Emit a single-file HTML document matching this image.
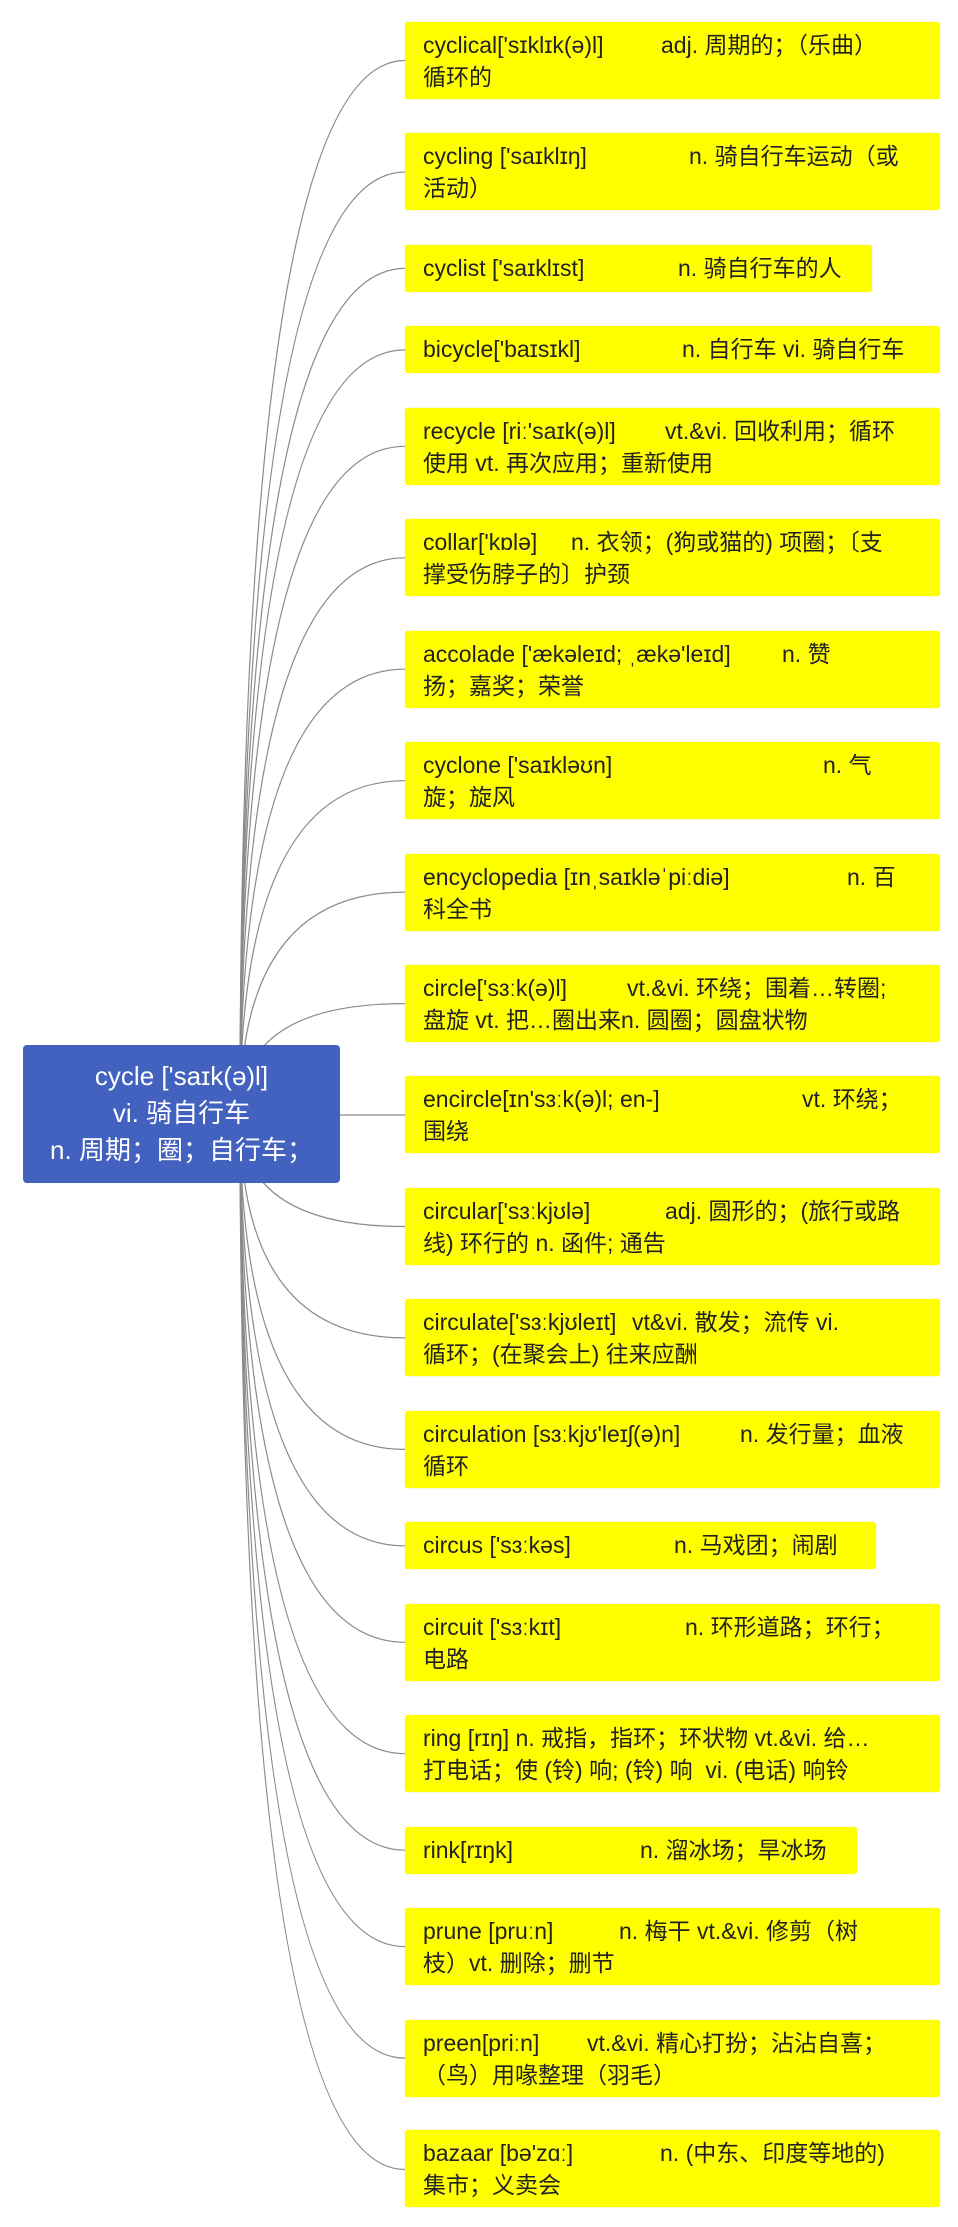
<!DOCTYPE html>
<html><head><meta charset="utf-8"><style>
html,body{margin:0;padding:0;background:#fff;}
body{width:958px;height:2227px;position:relative;overflow:hidden;font-family:"Liberation Sans","Noto Sans CJK SC",sans-serif;}
.b{position:absolute;left:405px;background:#ffff00;border-radius:3px;box-shadow:0 0 1px #e0e000;color:#222;font-size:23px;line-height:32px;padding:7px 0 0 18px;box-sizing:border-box;white-space:nowrap;}
.h2{height:77px}.h1{height:47px}
.l{position:relative;height:32px}
.l span{position:absolute;top:0}
.root{position:absolute;left:23px;top:1045px;width:317px;height:138px;background:#4361be;border-radius:4px;color:#fff;font-size:26px;line-height:37px;text-align:center;padding-top:13px;box-sizing:border-box;white-space:nowrap;}
svg{position:absolute;left:0;top:0}
</style></head><body>
<svg width="958" height="2227" fill="none" stroke="#8a8a8a" stroke-width="1.2">
<path d="M240 1114 Q240 60.5 405 60.5"/>
<path d="M240 1114 Q240 172 405 172"/>
<path d="M240 1114 Q240 268.4 405 268.4"/>
<path d="M240 1114 Q240 349.9 405 349.9"/>
<path d="M240 1114 Q240 446.3 405 446.3"/>
<path d="M240 1114 Q240 557.8 405 557.8"/>
<path d="M240 1114 Q240 669.2 405 669.2"/>
<path d="M240 1114 Q240 780.7 405 780.7"/>
<path d="M240 1114 Q240 892.1 405 892.1"/>
<path d="M240 1114 Q240 1003.6 405 1003.6"/>
<path d="M240 1115 L405 1115"/>
<path d="M240 1114 Q240 1226.5 405 1226.5"/>
<path d="M240 1114 Q240 1337.9 405 1337.9"/>
<path d="M240 1114 Q240 1449.4 405 1449.4"/>
<path d="M240 1114 Q240 1545.8 405 1545.8"/>
<path d="M240 1114 Q240 1642.3 405 1642.3"/>
<path d="M240 1114 Q240 1753.7 405 1753.7"/>
<path d="M240 1114 Q240 1850.2 405 1850.2"/>
<path d="M240 1114 Q240 1946.6 405 1946.6"/>
<path d="M240 1114 Q240 2058.1 405 2058.1"/>
<path d="M240 1114 Q240 2169.5 405 2169.5"/>
</svg>

<div class="b h2" style="top:22px;width:535px"><div class="l">cyclical['sɪklɪk(ə)l]<span style="left:238px">adj. 周期的；（乐曲）</span></div><div class="l">循环的</div></div>
<div class="b h2" style="top:133px;width:535px"><div class="l">cycling ['saɪklɪŋ]<span style="left:266px">n. 骑自行车运动（或</span></div><div class="l">活动）</div></div>
<div class="b h1" style="top:245px;width:467px"><div class="l">cyclist ['saɪklɪst]<span style="left:255px">n. 骑自行车的人</span></div></div>
<div class="b h1" style="top:326px;width:535px"><div class="l">bicycle['baɪsɪkl]<span style="left:259px">n. 自行车 vi. 骑自行车</span></div></div>
<div class="b h2" style="top:408px;width:535px"><div class="l">recycle [riː'saɪk(ə)l]<span style="left:242px">vt.&amp;vi. 回收利用；循环</span></div><div class="l">使用 vt. 再次应用；重新使用</div></div>
<div class="b h2" style="top:519px;width:535px"><div class="l">collar['kɒlə]<span style="left:148px">n. 衣领；(狗或猫的) 项圈；〔支</span></div><div class="l">撑受伤脖子的〕护颈</div></div>
<div class="b h2" style="top:631px;width:535px"><div class="l">accolade ['ækəleɪd; ˌækə'leɪd]<span style="left:359px">n. 赞</span></div><div class="l">扬；嘉奖；荣誉</div></div>
<div class="b h2" style="top:742px;width:535px"><div class="l">cyclone ['saɪkləʊn]<span style="left:400px">n. 气</span></div><div class="l">旋；旋风</div></div>
<div class="b h2" style="top:854px;width:535px"><div class="l">encyclopedia [ɪnˌsaɪkləˈpiːdiə]<span style="left:424px">n. 百</span></div><div class="l">科全书</div></div>
<div class="b h2" style="top:965px;width:535px"><div class="l">circle['sɜːk(ə)l]<span style="left:204px">vt.&amp;vi. 环绕；围着…转圈;</span></div><div class="l">盘旋 vt. 把…圈出来n. 圆圈；圆盘状物</div></div>
<div class="b h2" style="top:1076px;width:535px"><div class="l">encircle[ɪn'sɜːk(ə)l; en-]<span style="left:379px">vt. 环绕；</span></div><div class="l">围绕</div></div>
<div class="b h2" style="top:1188px;width:535px"><div class="l">circular['sɜːkjʊlə]<span style="left:242px">adj. 圆形的；(旅行或路</span></div><div class="l">线) 环行的 n. 函件; 通告</div></div>
<div class="b h2" style="top:1299px;width:535px"><div class="l">circulate['sɜːkjʊleɪt]<span style="left:209px">vt&amp;vi. 散发；流传 vi.</span></div><div class="l">循环；(在聚会上) 往来应酬</div></div>
<div class="b h2" style="top:1411px;width:535px"><div class="l">circulation [sɜːkjʊ'leɪʃ(ə)n]<span style="left:317px">n. 发行量；血液</span></div><div class="l">循环</div></div>
<div class="b h1" style="top:1522px;width:471px"><div class="l">circus ['sɜːkəs]<span style="left:251px">n. 马戏团；闹剧</span></div></div>
<div class="b h2" style="top:1604px;width:535px"><div class="l">circuit ['sɜːkɪt]<span style="left:262px">n. 环形道路；环行；</span></div><div class="l">电路</div></div>
<div class="b h2" style="top:1715px;width:535px"><div class="l">ring [rɪŋ] n. 戒指，指环；环状物 vt.&amp;vi. 给…</div><div class="l">打电话；使 (铃) 响; (铃) 响&nbsp; vi. (电话) 响铃</div></div>
<div class="b h1" style="top:1827px;width:452px"><div class="l">rink[rɪŋk]<span style="left:217px">n. 溜冰场；旱冰场</span></div></div>
<div class="b h2" style="top:1908px;width:535px"><div class="l">prune [pruːn]<span style="left:196px">n. 梅干 vt.&amp;vi. 修剪（树</span></div><div class="l">枝）vt. 删除；删节</div></div>
<div class="b h2" style="top:2020px;width:535px"><div class="l">preen[priːn]<span style="left:164px">vt.&amp;vi. 精心打扮；沾沾自喜；</span></div><div class="l">（鸟）用喙整理（羽毛）</div></div>
<div class="b h2" style="top:2130px;width:535px"><div class="l">bazaar [bə'zɑː]<span style="left:237px">n. (中东、印度等地的)</span></div><div class="l">集市；义卖会</div></div>

<div class="root">cycle ['saɪk(ə)l]<br>vi. 骑自行车<br>n. 周期；圈；自行车；</div>
</body></html>
